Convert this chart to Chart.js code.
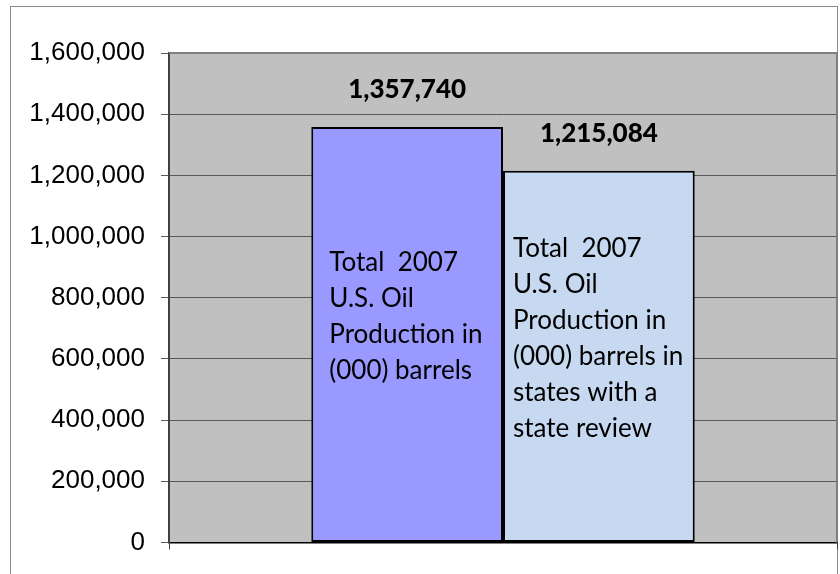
<!DOCTYPE html>
<html>
<head>
<meta charset="utf-8">
<script src="https://cdn.jsdelivr.net/npm/chart.js"></script>
<style>
  html, body { margin: 0; padding: 0; background: #fff; }
  #wrap { width: 840px; height: 574px; }
</style>
</head>
<body>
<div id="wrap"><canvas id="oilChart" width="840" height="574"></canvas></div>
<script>
// data
const categories = [''];
const totalUS = [1357740];
const stateReview = [1215084];
const totalUSText = ['Total  2007', 'U.S. Oil', 'Production in', '(000) barrels'];
const stateReviewText = ['Total  2007', 'U.S. Oil', 'Production in', '(000) barrels in', 'states with a', 'state review'];
const yMax = 1600000;
const yStep = 200000;

const ctx = document.getElementById('oilChart').getContext('2d');

// white page, outer frame, grey plot area
const frame = {
    id: 'frame',
    beforeDraw(chart) {
        const c = chart.ctx;
        const a = chart.chartArea;
        c.save();
        c.fillStyle = '#fff';
        c.fillRect(0, 0, chart.width, chart.height);
        c.strokeStyle = '#8c8c8c';
        c.lineWidth = 1;
        c.strokeRect(10.5, 6.5, 827, 620);
        c.fillStyle = '#c0c0c0';
        c.fillRect(a.left, a.top, a.right - a.left, a.bottom - a.top);
        c.restore();
    },
    afterDatasetsDraw(chart) {
        const c = chart.ctx;
        const a = chart.chartArea;
        c.save();
        c.strokeStyle = '#7f7f7f';
        c.lineWidth = 2;
        c.beginPath();
        c.moveTo(a.left, a.top);
        c.lineTo(a.right, a.top);
        c.lineTo(a.right, a.bottom);
        c.stroke();
        c.restore();
    }
};

// value labels above bars + text inside bars
const barLabels = {
    id: 'barLabels',
    afterDatasetsDraw(chart) {
        const c = chart.ctx;
        const texts = [totalUSText, stateReviewText];
        const indent = [18, 10];
        c.save();
        chart.data.datasets.forEach((ds, i) => {
            const bar = chart.getDatasetMeta(i).data[0];
            c.fillStyle = '#000';
            c.font = '900 26px Lato';
            c.textAlign = 'center';
            c.textBaseline = 'middle';
            c.fillText(ds.data[0].toLocaleString('en-US'), bar.x, bar.y - 37);

            const lines = texts[i];
            const mid = (bar.y + bar.base) / 2 - 18;
            const lh = 36;
            const x0 = bar.x - bar.width / 2 + indent[i];
            c.font = '26px Lato';
            c.textAlign = 'left';
            lines.forEach((t, k) => {
                c.fillText(t, x0, mid + (k - (lines.length - 1) / 2) * lh);
            });
        });
        c.restore();
    }
};

const oilChart = new Chart(ctx, {
    type: 'bar',
    data: {
        labels: categories,
        datasets: [{
            data: totalUS,
            backgroundColor: '#9999ff',
            borderColor: '#000',
            borderWidth: 2,
            borderSkipped: false
        }, {
            data: stateReview,
            backgroundColor: '#c6d9f1',
            borderColor: '#000',
            borderWidth: 2,
            borderSkipped: false
        }]
    },
    options: {
        responsive: false,
        animation: false,
        categoryPercentage: 0.574,
        barPercentage: 1,
        layout: { padding: { left: 0, top: 53, right: 3, bottom: 18 } },
        plugins: {
            legend: { display: false },
            tooltip: { enabled: false }
        },
        scales: {
            x: {
                ticks: { display: false },
                grid: { drawOnChartArea: false, color: '#404040', tickLength: 7 },
                border: { color: '#000', width: 1.5 },
                afterFit(scale) { scale.height = 10; }
            },
            y: {
                min: 0,
                max: yMax,
                ticks: {
                    stepSize: yStep,
                    color: '#000',
                    padding: 16,
                    font: { family: 'Liberation Sans', size: 26 },
                    callback: v => v.toLocaleString('en-US')
                },
                grid: { color: '#595959', lineWidth: 1, tickLength: 8 },
                border: { color: '#404040', width: 2 },
                afterFit(scale) { scale.width = 169; }
            }
        }
    },
    plugins: [frame, barLabels]
});
</script>
</body>
</html>
